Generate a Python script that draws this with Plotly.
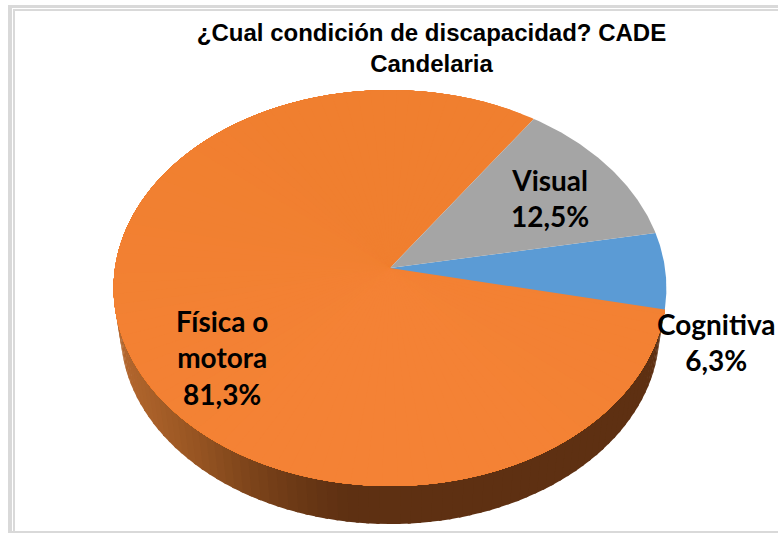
import numpy as np
import plotly.graph_objects as go

# Data
categories = ["Cognitiva", "Visual", "Física o<br>motora"]
values = [6.25, 12.5, 81.25]
value_labels = ["6,3%", "12,5%", "81,3%"]
title_text = "¿Cual condición de discapacidad? CADE<br>Candelaria"

# Style and geometry of the tilted pie
W, H = 778, 533
APEX_X, APEX_Y = 390, 268
FAR_R, NEAR_R, SIDE_R = 178, 218, 275
TILT = (NEAR_R - FAR_R) / (NEAR_R + FAR_R)
B = FAR_R * (1 + TILT)
BASE_SCALE, BASE_DY = 0.975, 43.5
START_DEG = -12.0
colors = {"Cognitiva": (91, 155, 213), "Visual": (165, 165, 165)}
ORANGE_FAR, ORANGE_NEAR = np.array([240, 127, 47]), np.array([244, 130, 53])
SIDE_STOPS_X = [113, 150, 200, 250, 300, 345, 700]
SIDE_STOPS_C = [(182, 105, 48), (170, 97, 42), (150, 84, 34), (125, 68, 26), (106, 56, 21), (94, 48, 18), (94, 48, 18)]


def project(deg, scale=1.0, dy=0.0):
    a = np.radians(deg)
    s, c = np.sin(a), np.cos(a)
    d = 1 + TILT * s
    return APEX_X + scale * SIDE_R * c / d, APEX_Y + dy - scale * B * s / d


def rgb(c):
    return "rgb(%d,%d,%d)" % tuple(int(round(v)) for v in c)


fig = go.Figure()


def poly(x, y, color):
    fig.add_trace(go.Scatter(x=x, y=y, mode="lines", fill="toself", fillcolor=color,
                             line=dict(width=0, color=color), hoverinfo="skip", showlegend=False))


# Slice boundaries, walking counter-clockwise on the ground plane
spans = np.array(values) / sum(values) * 360
edges = START_DEG + np.concatenate([[0], np.cumsum(spans)])
big_start, big_end = edges[2], edges[3]

# Outer wall of the big slice (near half), colour follows screen x
wall_angles = np.arange(START_DEG, -181.0, -2.0)
for a1, a2 in zip(wall_angles[:-1], wall_angles[1:]):
    t = np.linspace(a1, a2 - 0.6, 5)
    xt, yt = project(t)
    xb, yb = project(t, BASE_SCALE, BASE_DY)
    xm = float(np.mean(xb))
    col = [np.interp(xm, SIDE_STOPS_X, [c[i] for c in SIDE_STOPS_C]) for i in range(3)]
    poly(np.concatenate([xt, xb[::-1]]), np.concatenate([yt, yb[::-1]]), rgb(col))

# Top faces: big slice as a painted fan to carry its faint shading
fan_edges = np.arange(big_start, big_end, 3.0)
for f in fan_edges:
    t = np.linspace(f, big_end, max(int((big_end - f) * 2), 2))
    x, y = project(t)
    mix = (1 - np.sin(np.radians(f + 1.5))) / 2
    col = ORANGE_FAR + (ORANGE_NEAR - ORANGE_FAR) * mix
    poly(np.concatenate([[APEX_X], x, [APEX_X]]), np.concatenate([[APEX_Y], y, [APEX_Y]]), rgb(col))

for name, a1, a2 in [("Cognitiva", edges[0], edges[1]), ("Visual", edges[1], edges[2])]:
    t = np.linspace(a1, a2, 80)
    x, y = project(t)
    poly(np.concatenate([[APEX_X], x, [APEX_X]]), np.concatenate([[APEX_Y], y, [APEX_Y]]), rgb(colors[name]))

# Data labels
label_pos = [(716, 342), (550, 198), (222, 357)]
annotations = [
    dict(x=px, y=py, xref="x", yref="y", text=f"<b>{cat}<br>{lab}</b>", showarrow=False,
         xanchor="center", yanchor="middle", align="center",
         font=dict(family="Lato, 'Noto Sans', sans-serif", size=28, color="black"))
    for cat, lab, (px, py) in zip(categories, value_labels, label_pos)
]

# Chart-frame bands
frame_color = "#d9d9d9"
shapes = [
    dict(type="path", xref="x", yref="y", line=dict(width=0), fillcolor=frame_color, layer="below",
         path="M 778 5 H 8 V 533 H 12 V 8 H 778 Z"),
    dict(type="path", xref="x", yref="y", line=dict(width=0), fillcolor=frame_color, layer="below",
         path="M 778 9 H 13 V 533 H 15 V 11 H 778 Z"),
    dict(type="rect", xref="x", yref="y", x0=8, x1=778, y0=531, y1=533, line=dict(width=0),
         fillcolor=frame_color, layer="below"),
]

fig.update_layout(
    width=W, height=H, margin=dict(l=0, r=0, t=0, b=0), paper_bgcolor="white", plot_bgcolor="white",
    autosize=False, showlegend=False,
    title=dict(text=f"<b>{title_text}</b>", x=431.5 / W, xanchor="center", y=1 - 41 / H, yanchor="top",
               font=dict(family="Liberation Sans, Arial, sans-serif", size=24, color="black")),
    xaxis=dict(range=[0, W], visible=False, fixedrange=True),
    yaxis=dict(range=[H, 0], visible=False, fixedrange=True),
    annotations=annotations, shapes=shapes,
)
fig.write_html("out.html", config={"displayModeBar": False},
               post_script="document.body.style.margin='0';document.body.style.overflow='hidden';")
